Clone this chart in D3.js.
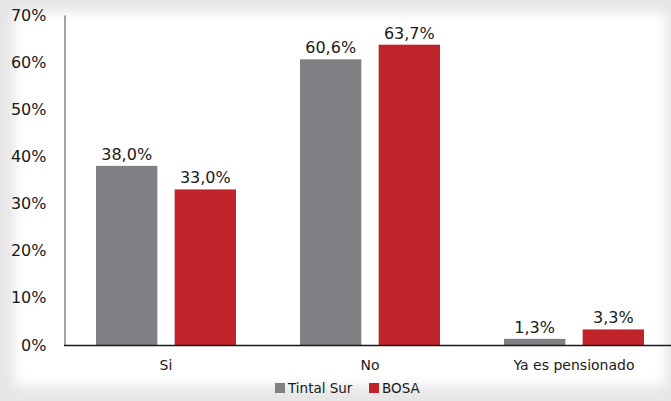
<!DOCTYPE html>
<html>
<head>
<meta charset="utf-8">
<script src="https://cdn.jsdelivr.net/npm/d3@7"></script>
<style>
  body { margin: 0; padding: 0; background: #fff; }
  svg { display: block; font-family: "DejaVu Sans", Verdana, sans-serif; }
</style>
</head>
<body>
<div class="svg-container"></div>
<script>
// data
var categories = ["Si", "No", "Ya es pensionado"];
var seriesNames = ["Tintal Sur", "BOSA"];
var tintalSur = [38.0, 60.6, 1.3];
var bosa = [33.0, 63.7, 3.3];
var yTicks = [0, 10, 20, 30, 40, 50, 60, 70];
var colors = ["#808184", "#c1232b"];

var width = 671;
var height = 401;

var svg = d3.select(".svg-container").append("svg")
    .attr("width", width)
    .attr("height", height);

// soft grey frame round a white panel
var defs = svg.append("defs");
defs.append("filter")
    .attr("id", "soft")
    .attr("x", "-10%").attr("y", "-10%")
    .attr("width", "120%").attr("height", "120%")
    .append("feGaussianBlur")
    .attr("stdDeviation", 6);

svg.append("rect")
    .attr("width", width).attr("height", height)
    .attr("fill", "#e6e6e6");
svg.append("rect")
    .attr("x", 14).attr("y", 12)
    .attr("width", 652).attr("height", 374)
    .attr("fill", "#ffffff")
    .attr("filter", "url(#soft)");

// scales
var x0 = d3.scaleBand()
    .domain(categories)
    .range([64, 676])
    .paddingInner(0)
    .paddingOuter(0);

var x1 = d3.scaleBand()
    .domain(seriesNames)
    .range([32, x0.bandwidth() - 32])
    .paddingInner(0.22)
    .paddingOuter(0);

var y = d3.scaleLinear()
    .domain([0, 70])
    .range([345, 15]);

// Y axis
var yAxis = svg.append("g")
    .attr("transform", "translate(64.5,0)")
    .call(d3.axisLeft(y).tickValues(yTicks).tickSize(0).tickPadding(18)
        .tickFormat(function(d) { return d + "%"; }));
yAxis.select(".domain").attr("stroke", "#868686").attr("stroke-width", 1.5);
yAxis.selectAll("text")
    .attr("font-size", 16)
    .attr("fill", "#1a1a1a")
    .attr("font-family", "DejaVu Sans, sans-serif");

// bars
var rows = categories.map(function(c, i) {
    return { cat: c, values: [tintalSur[i], bosa[i]] };
});

var groups = svg.selectAll(".grp")
    .data(rows)
    .enter().append("g")
    .attr("class", "grp")
    .attr("transform", function(d) { return "translate(" + x0(d.cat) + ",0)"; });

groups.selectAll("rect")
    .data(function(d) { return d.values.map(function(v, j) { return { name: seriesNames[j], v: v, j: j }; }); })
    .enter().append("rect")
    .attr("x", function(d) { return x1(d.name); })
    .attr("y", function(d) { return y(d.v); })
    .attr("width", x1.bandwidth())
    .attr("height", function(d) { return y(0) - y(d.v); })
    .attr("fill", function(d) { return colors[d.j]; });

groups.selectAll("text")
    .data(function(d) { return d.values.map(function(v, j) { return { name: seriesNames[j], v: v }; }); })
    .enter().append("text")
    .attr("x", function(d) { return x1(d.name) + x1.bandwidth() / 2; })
    .attr("y", function(d) { return y(d.v) - 6; })
    .attr("text-anchor", "middle")
    .attr("font-size", 16)
    .attr("fill", "#1a1a1a")
    .text(function(d) { return d3.format(".1f")(d.v).replace(".", ",") + "%"; });

// X axis baseline and category labels
svg.append("line")
    .attr("x1", 64).attr("x2", 671)
    .attr("y1", 345.5).attr("y2", 345.5)
    .attr("stroke", "#1a1a1a")
    .attr("stroke-width", 1.5);

svg.selectAll(".cat")
    .data(categories)
    .enter().append("text")
    .attr("class", "cat")
    .attr("x", function(d) { return x0(d) + x0.bandwidth() / 2; })
    .attr("y", 370)
    .attr("text-anchor", "middle")
    .attr("font-size", 14)
    .attr("fill", "#1a1a1a")
    .text(function(d) { return d; });

// legend
var legendX = [275, 369];
var legend = svg.selectAll(".leg")
    .data(seriesNames)
    .enter().append("g")
    .attr("class", "leg")
    .attr("transform", function(d, i) { return "translate(" + legendX[i] + ",383)"; });
legend.append("rect")
    .attr("width", 10).attr("height", 10)
    .attr("fill", function(d, i) { return colors[i]; });
legend.append("text")
    .attr("x", 13).attr("y", 10)
    .attr("font-size", 13.5)
    .attr("fill", "#1a1a1a")
    .text(function(d) { return d; });
</script>
</body>
</html>
